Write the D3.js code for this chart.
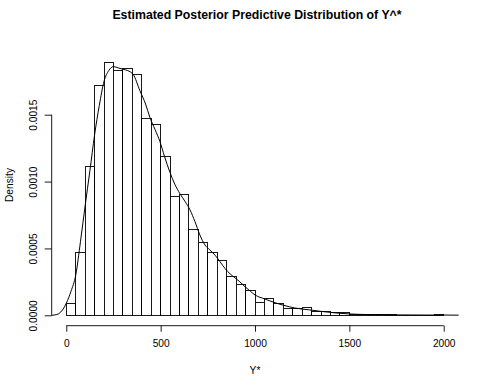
<!DOCTYPE html>
<html>
<head>
<meta charset="utf-8">
<script src="https://cdn.jsdelivr.net/npm/d3@7"></script>
<style>
  body { margin: 0; background: #fff; }
  svg { display: block; font-family: "Liberation Sans", Arial, Helvetica, sans-serif; }
</style>
</head>
<body>
<div class="sandbox"></div>
<script>
// histogram: breaks every 50 from 0 to 2000, density per bin
var breaks = d3.range(0, 2001, 50);
var binDensity = [
  0.000087, 0.000471, 0.001114, 0.001715, 0.001892, 0.001829, 0.001842, 0.001804,
  0.001468, 0.001425, 0.001189, 0.000887, 0.000902, 0.000640, 0.000546, 0.000471,
  0.000408, 0.000292, 0.000232, 0.000187, 0.000097, 0.000127, 0.000085, 0.000054,
  0.000050, 0.000055, 0.000027, 0.000025, 0.000020, 0.000019, 0.000008, 0.000005,
  0.000004, 0.000003, 0.000003, 0.000002, 0.000001, 0.000001, 0.000001, 0.000003
];
// kernel density estimate
var densX = [-80, -60, -40, -20, 0, 25, 50, 75, 100, 125, 150, 175, 200, 225, 250, 275, 300,
  325, 355, 390, 420, 443, 470, 496, 520, 549, 575, 602, 630, 655, 682, 708, 735, 760, 788,
  815, 841, 868, 894, 920, 947, 975, 1000, 1053, 1106, 1159, 1210, 1291, 1397, 1503, 1610,
  1750, 1900, 2000, 2080];
var densY = [0, 0.000003, 0.000012, 0.00004, 0.00009, 0.00018, 0.0003, 0.00055, 0.00082,
  0.00108, 0.00135, 0.00157, 0.00175, 0.00183, 0.00186, 0.00185, 0.00184, 0.00183, 0.0018,
  0.00168, 0.00158, 0.00148, 0.00139, 0.0013, 0.00119, 0.00107, 0.00098, 0.00091, 0.00085,
  0.00079, 0.0007, 0.0006, 0.000526, 0.00049, 0.00045, 0.0004, 0.00035, 0.00031, 0.00028,
  0.00025, 0.000214, 0.00018, 0.000152, 0.000122, 0.000094, 0.000072, 0.000055, 0.00004,
  0.000022, 0.00001, 0.000005, 0.000003, 0.000002, 0.000002, 0.000001];
var xTicks = [0, 500, 1000, 1500, 2000];
var yTicks = [0, 0.0005, 0.001, 0.0015];

var w = 485, h = 390;
var svg = d3.select(".sandbox").append("svg").attr("width", w).attr("height", h);

var x = d3.scaleLinear().domain([-80, 2080]).range([51.2, 458.8]);
// 0 and 0.0015 pinned to the measured pixels
var y = d3.scaleLinear().domain([0, 0.0015]).range([315.3, 114.7]);

svg.append("defs").append("clipPath").attr("id", "plotclip")
  .append("rect").attr("x", 51.2).attr("y", 40).attr("width", 458.8 - 51.2).attr("height", 283);

// bars
svg.append("g").selectAll("rect")
  .data(binDensity)
  .enter()
  .append("rect")
  .attr("x", (d, i) => x(breaks[i]))
  .attr("y", d => y(d))
  .attr("width", (d, i) => x(breaks[i + 1]) - x(breaks[i]))
  .attr("height", d => y(0) - y(d))
  .attr("fill", "#fff")
  .attr("stroke", "#000")
  .attr("stroke-width", 0.9)
  .attr("shape-rendering", "crispEdges");

// density line
var line = d3.line()
  .x((d, i) => x(densX[i]))
  .y(d => y(d))
  .curve(d3.curveMonotoneX);
svg.append("path")
  .datum(densY)
  .attr("clip-path", "url(#plotclip)")
  .attr("d", line)
  .attr("fill", "none")
  .attr("stroke", "#000")
  .attr("stroke-width", 1);

// x axis (R style: offset below the plot)
var xAxis = svg.append("g").attr("transform", "translate(0,325.7)")
  .call(d3.axisBottom(x).tickValues(xTicks).tickSize(6).tickPadding(8).tickFormat(d3.format("d")));
// y axis
var yAxis = svg.append("g").attr("transform", "translate(51.7,0)")
  .call(d3.axisLeft(y).tickValues(yTicks).tickSize(7).tickFormat(d3.format(".4f")));

[xAxis, yAxis].forEach(function(a) {
  a.select(".domain").attr("stroke", "#000").attr("stroke-width", 0.9);
  a.selectAll(".tick line").attr("stroke", "#000").attr("stroke-width", 0.9);
  a.selectAll("text").attr("fill", "#000").style("font-size", "10.2px")
    .style("font-family", "'Liberation Sans', Arial, sans-serif");
});
// strip outer ticks from the domain path
xAxis.select(".domain").attr("d", "M" + x(0) + ",0H" + x(2000));
yAxis.select(".domain").attr("d", "M0," + y(0) + "V" + y(0.0015));

// rotated y tick labels
yAxis.selectAll(".tick text")
  .attr("x", 0).attr("dy", 0)
  .attr("text-anchor", "middle")
  .attr("transform", "translate(-15,0) rotate(-90)");

// titles
svg.append("text")
  .attr("x", 257).attr("y", 19)
  .attr("text-anchor", "middle")
  .style("font-weight", "bold")
  .style("font-size", "12.3px")
  .text("Estimated Posterior Predictive Distribution of Y^*");

svg.append("text")
  .attr("x", 255).attr("y", 374)
  .attr("text-anchor", "middle")
  .style("font-size", "10.2px")
  .text("Y*");

svg.append("text")
  .attr("transform", "translate(13,185) rotate(-90)")
  .attr("text-anchor", "middle")
  .style("font-size", "10.2px")
  .text("Density");
</script>
</body>
</html>
